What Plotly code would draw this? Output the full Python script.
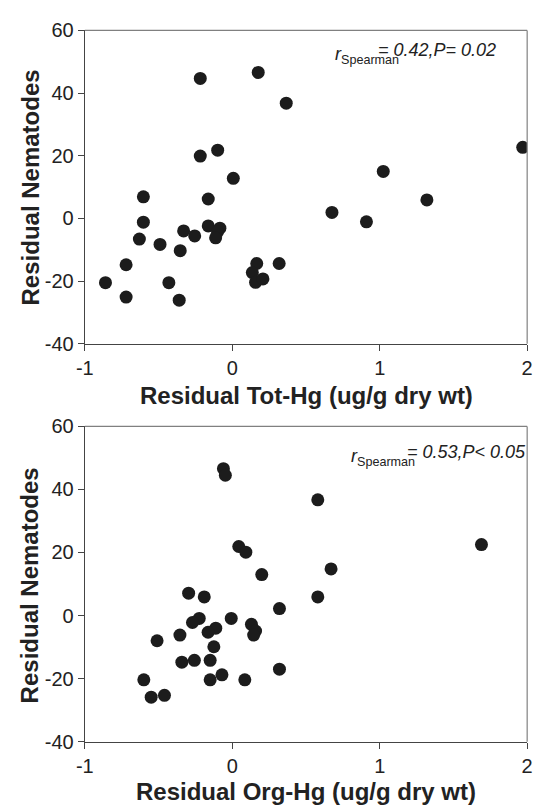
import plotly.graph_objects as go

# Residuals: total mercury vs nematode counts
tot_hg = [-0.217, 0.176, -0.217, -0.099, 0.007, -0.603, -0.163, 0.366, 1.97, 1.024,
          1.32, -0.603, -0.63, -0.49, -0.33, -0.255, -0.353, -0.163, -0.084, -0.10,
          -0.113, -0.72, -0.86, -0.72, -0.43, -0.36, 0.166, 0.136, 0.158, 0.208,
          0.318, 0.676, 0.91]
nem_tot = [44.7, 46.6, 19.9, 21.8, 12.8, 6.9, 6.2, 36.8, 22.7, 15.0,
           5.9, -1.2, -6.6, -8.3, -4.0, -5.6, -10.3, -2.4, -3.1, -4.3,
           -6.2, -14.8, -20.5, -25.1, -20.5, -26.1, -14.4, -17.3, -20.4, -19.3,
           -14.4, 1.9, -1.1]

# Residuals: organic mercury vs nematode counts
org_hg = [-0.06, -0.047, 0.044, 0.092, 0.20, -0.296, -0.19, 0.58, 1.69, 0.67,
          0.58, 0.32, -0.224, -0.27, -0.007, 0.13, 0.158, 0.145, -0.112, -0.164,
          -0.355, -0.51, -0.125, -0.342, -0.257, -0.15, -0.60, -0.15, -0.07, 0.085,
          -0.55, -0.46, 0.32]
nem_org = [46.6, 44.5, 21.9, 20.1, 13.0, 7.1, 5.9, 36.7, 22.5, 14.8,
           5.9, 2.2, -0.9, -2.2, -0.9, -2.8, -4.9, -6.2, -4.0, -5.3,
           -6.2, -8.0, -9.9, -14.8, -14.2, -14.2, -20.4, -20.4, -18.8, -20.4,
           -25.9, -25.3, -17.0]

x_ticks = [-1, 0, 1, 2]
x_tick_text = ["-1", "0", "1", "2"]
y_ticks = [-40, -20, 0, 20, 40, 60]
y_tick_text = ["-40", "-20", "0", "20", "40", "60"]
x_titles = ["Residual Tot-Hg (ug/g dry wt)", "Residual Org-Hg (ug/g dry wt)"]
y_title = "Residual Nematodes"
stats = ["= 0.42,P= 0.02", "= 0.53,P< 0.05"]

W, H = 539, 811
FONT = "Arial, 'Liberation Sans', sans-serif"
INK = "#1c1c1c"

fig = go.Figure()
fig.add_trace(go.Scatter(x=tot_hg, y=nem_tot, mode="markers", xaxis="x", yaxis="y",
                         marker=dict(size=13, color=INK, line=dict(width=0))))
fig.add_trace(go.Scatter(x=org_hg, y=nem_org, mode="markers", xaxis="x2", yaxis="y2",
                         marker=dict(size=13, color=INK, line=dict(width=0))))

xdom = [78 / W, 533 / W]
ydom_top = [(H - 342) / H, (H - 20) / H]
ydom_bot = [(H - 751) / H, (H - 427) / H]

axis_common = dict(showgrid=False, zeroline=False, showline=True, linecolor="#444",
                   linewidth=1.2, ticks="outside", ticklen=6, tickwidth=1.2,
                   tickcolor="#444", tickfont=dict(family=FONT, size=20, color="#222"))
xa = dict(range=[-1, 2], tickvals=x_ticks, ticktext=x_tick_text, **axis_common)
ya = dict(range=[-40, 60], tickvals=y_ticks, ticktext=y_tick_text, **axis_common)

fig.update_layout(
    width=W, height=H, margin=dict(l=0, r=0, t=0, b=0),
    paper_bgcolor="white", plot_bgcolor="white", showlegend=False,
    xaxis=dict(domain=xdom, anchor="y", **xa),
    yaxis=dict(domain=ydom_top, anchor="x", **ya),
    xaxis2=dict(domain=xdom, anchor="y2", **xa),
    yaxis2=dict(domain=ydom_bot, anchor="x2", **ya),
)

# Light frame on the top and right sides of each panel
for xr, yr in [("x domain", "y domain"), ("x2 domain", "y2 domain")]:
    fig.add_shape(type="line", xref=xr, yref=yr, x0=0, x1=1, y0=1, y1=1,
                  line=dict(color="#808080", width=1.2))
    fig.add_shape(type="line", xref=xr, yref=yr, x0=1, x1=1, y0=0, y1=1,
                  line=dict(color="#808080", width=1.2))

ann = []
# axis titles
for yc, xt in [(395, x_titles[0]), (802, x_titles[1])]:
    ann.append(dict(x=306 / W, y=1 - yc / H, xref="paper", yref="paper",
                    text=f"<b>{xt}</b>", showarrow=False, xanchor="center", yanchor="middle",
                    font=dict(family=FONT, size=24, color="#222")))
for yc in [181, 590]:
    ann.append(dict(x=22 / W, y=1 - yc / H, xref="paper", yref="paper",
                    text=f"<b>{y_title}</b>", textangle=-90, showarrow=False,
                    xanchor="center", yanchor="middle",
                    font=dict(family=FONT, size=24, color="#222")))

# correlation labels
for (rx, sx, yc), s in zip([(333, 378, 40), (350, 407, 453)], stats):
    ann.append(dict(x=rx / W, y=1 - yc / H, xref="paper", yref="paper",
                    text="<i>r</i><sub>Spearman</sub>", showarrow=False,
                    xanchor="left", yanchor="top", yshift=8,
                    font=dict(family=FONT, size=18, color="#222")))
    ann.append(dict(x=sx / W, y=1 - yc / H, xref="paper", yref="paper",
                    text=f"<i>{s}</i>", showarrow=False,
                    xanchor="left", yanchor="middle",
                    font=dict(family=FONT, size=18, color="#222")))

fig.update_layout(annotations=ann)
fig.write_html("out.html")
